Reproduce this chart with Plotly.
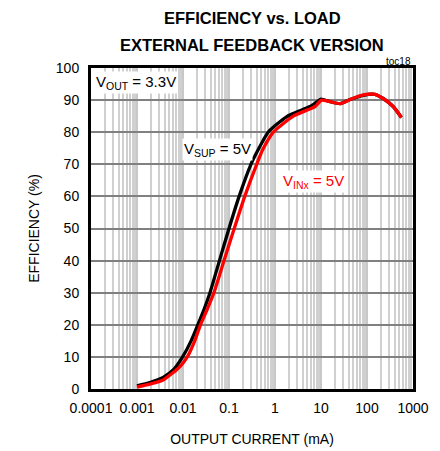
import plotly.graph_objects as go
import numpy as np

# Data
vsup_current_ma = [0.001, 0.0019, 0.0037, 0.0062, 0.0098, 0.015, 0.021, 0.029, 0.0386, 0.062,
                   0.1, 0.166, 0.30, 0.43, 0.71, 1.78, 3.8, 5.8, 7.9, 10, 15.7, 26, 43, 83,
                   149, 225, 370, 560]
vsup_efficiency = [1.0, 2.0, 3.6, 6.0, 10, 15, 20, 25, 30, 40,
                   50, 60, 70, 74.5, 80, 84.8, 86.9, 88, 89.3, 90.3, 89.5, 88.9, 90.2, 91.5,
                   91.8, 90.5, 88, 84.6]

vinx_current_ma = [0.001, 0.0019, 0.0037, 0.0086, 0.0124, 0.018, 0.024, 0.034, 0.047, 0.078,
                   0.13, 0.22, 0.40, 0.54, 0.92, 2.5, 5.2, 7.4, 10.3, 15.7, 26, 43, 83,
                   149, 225, 370, 560]
vinx_efficiency = [0.6, 1.5, 2.8, 7, 10, 15, 20, 25, 30, 40,
                   50, 60, 70, 74.5, 80, 85, 87, 88, 90, 89.5, 88.9, 90.2, 91.6,
                   91.8, 90.5, 88, 84.6]

x_tick_values = [0.0001, 0.001, 0.01, 0.1, 1, 10, 100, 1000]
x_tick_labels = ["0.0001", "0.001", "0.01", "0.1", "1", "10", "100", "1000"]
y_tick_values = list(range(0, 101, 10))

FONT = "Liberation Sans, Arial, sans-serif"

fig = go.Figure()
fig.add_trace(go.Scatter(x=vsup_current_ma, y=vsup_efficiency, mode="lines",
                         line=dict(color="black", width=3.3, shape="spline", smoothing=0.6),
                         showlegend=False))
fig.add_trace(go.Scatter(x=vinx_current_ma, y=vinx_efficiency, mode="lines",
                         line=dict(color="#ff0000", width=3.3, shape="spline", smoothing=0.6),
                         showlegend=False))

fig.update_layout(
    width=440, height=451,
    margin=dict(l=91, r=27, t=68, b=62, autoexpand=False),
    paper_bgcolor="white", plot_bgcolor="white",
    font=dict(family=FONT, size=14, color="black"),
    xaxis=dict(type="log", range=[-4, 3], tickvals=x_tick_values, ticktext=x_tick_labels,
               automargin=False, ticklabelstandoff=4,
               showgrid=True, gridcolor="#c8c8c8", gridwidth=1.5,
               minor=dict(showgrid=True, gridcolor="#d0d0d0", gridwidth=1.5, dtick="D1"),
               showline=True, linecolor="black", linewidth=3, mirror=True,
               ticks="", tickfont=dict(size=14),
               title=dict(text="OUTPUT CURRENT (mA)", font=dict(size=14), standoff=20)),
    yaxis=dict(range=[0, 100], tickvals=y_tick_values, automargin=False,
               ticklabelstandoff=6,
               showgrid=True, gridcolor="#808080", gridwidth=1.5,
               showline=True, linecolor="black", linewidth=3, mirror=True,
               ticks="", tickfont=dict(size=14), zeroline=False,
               title=dict(text="EFFICIENCY (%)", font=dict(size=14), standoff=13)),
)

fig.add_annotation(text="<b>EFFICIENCY vs. LOAD</b>", xref="paper", yref="paper",
                   x=0.5, y=1, yshift=50, xanchor="center", yanchor="middle",
                   showarrow=False, font=dict(size=16.5, family=FONT))
fig.add_annotation(text="<b>EXTERNAL FEEDBACK VERSION</b>", xref="paper", yref="paper",
                   x=0.5, y=1, yshift=23, xanchor="center", yanchor="middle",
                   showarrow=False, font=dict(size=16.5, family=FONT))
fig.add_annotation(text="toc18", xref="paper", yref="paper", x=1, y=1, yshift=7,
                   xanchor="right", yanchor="middle", showarrow=False,
                   font=dict(size=10, family=FONT))

fig.add_annotation(text="V<sub>OUT</sub> = 3.3V", xref="paper", yref="paper",
                   x=0.008, y=0.99, xanchor="left", yanchor="top", showarrow=False,
                   bgcolor="white", font=dict(size=15, family=FONT))
fig.add_annotation(text="V<sub>SUP</sub> = 5V", xref="x", yref="y",
                   x=np.log10(0.0095), y=74.5, xanchor="left", yanchor="middle", showarrow=False,
                   bgcolor="white", font=dict(size=15, family=FONT))
fig.add_annotation(text="V<sub>INx</sub> = 5V", xref="x", yref="y",
                   x=np.log10(1.35), y=64.6, xanchor="left", yanchor="middle", showarrow=False,
                   bgcolor="white", font=dict(size=15, family=FONT, color="#ff0000"))

fig.write_html("out.html", config={"displayModeBar": False},
               post_script="document.body.style.margin='0';document.body.style.overflow='hidden';")
